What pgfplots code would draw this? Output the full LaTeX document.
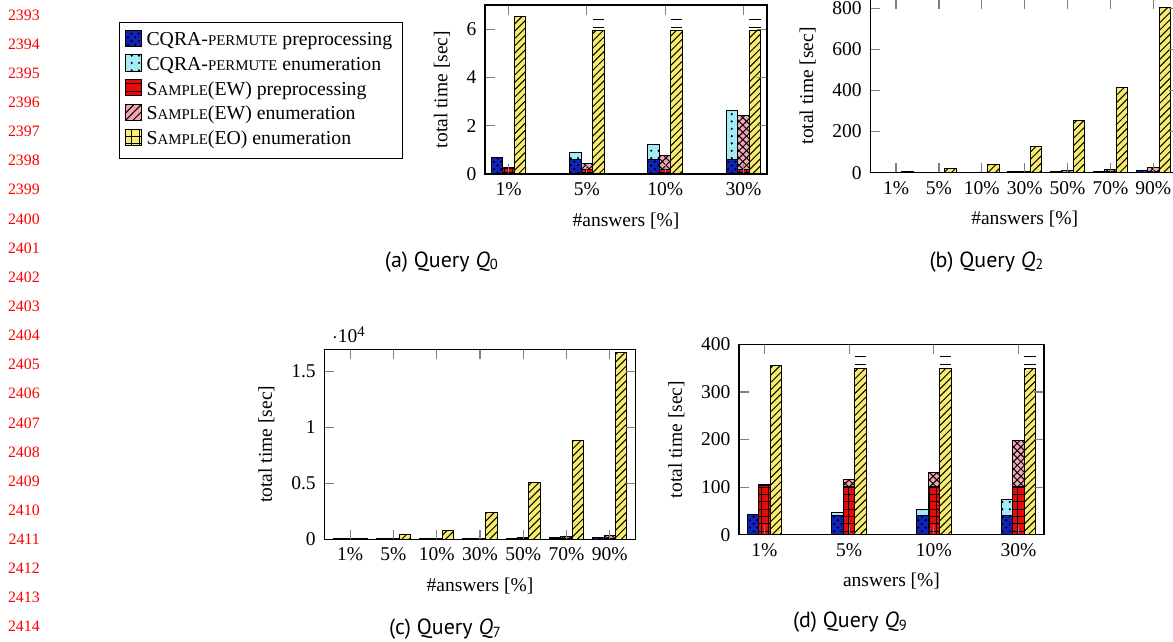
\documentclass[border=0pt]{standalone}
\usepackage{fontspec}
\setmainfont{Liberation Serif}
\newfontfamily\capfont{PT Sans}
\usepackage{pgfplots}
\pgfplotsset{compat=1.18}
\usetikzlibrary{patterns}

\definecolor{cblue}{RGB}{15,35,185}
\definecolor{ccyan}{RGB}{165,235,245}
\definecolor{cred}{RGB}{235,10,10}
\definecolor{cpink}{RGB}{242,165,180}
\definecolor{cyel}{RGB}{248,236,110}

\newcommand\sm[1]{{\fontsize{6.1}{7}\selectfont #1}}

\pgfdeclareplotmark{dbl}{%
  \pgfpathmoveto{\pgfpoint{2.35pt}{1.4pt}}\pgfpathlineto{\pgfpoint{7.05pt}{1.4pt}}%
  \pgfpathmoveto{\pgfpoint{2.35pt}{4.6pt}}\pgfpathlineto{\pgfpoint{7.05pt}{4.6pt}}%
  \pgfusepathqstroke}

\pgfplotsset{
  bw/.style={ybar, bar width=4.7pt, draw=black, line width=0.4pt},
  cqpre/.style={bw, bar shift=-4.7pt, fill=cblue, postaction={pattern=crosshatch dots}},
  cqenum/.style={bw, bar shift=-4.7pt, fill=ccyan, postaction={pattern=dots}},
  ewpre/.style={bw, bar shift=0pt, fill=cred, postaction={pattern=grid}},
  ewenum/.style={bw, bar shift=0pt, fill=cpink, postaction={pattern=crosshatch}},
  eo/.style={bw, bar shift=4.7pt, fill=cyel, postaction={pattern=north east lines}},
  brk/.style={only marks, mark=dbl, mark options={black, line width=0.4pt}},
  fig/.style={
    scale only axis, axis on top, anchor=south west, ymin=0,
    tick style={color=gray, line width=0.5pt},
    major tick length=4pt, tick align=inside,
    axis line style={black, line width=0.5pt},
    font=\fontsize{8}{9.6}\selectfont,
    ticklabel style={font=\fontsize{8}{9.6}\selectfont},
    label style={font=\fontsize{8}{9.6}\selectfont},
    /pgf/number format/assume math mode=true,
    ylabel={total time [sec]},
    xlabel={\#answers [\%]},
  },
}

\begin{document}
\begin{tikzpicture}
\useasboundingbox (0,0) rectangle (480.93pt,262.81pt);
\clip (0,0) rectangle (480.93pt,262.81pt);

% line numbers
\foreach \i in {0,...,21}{
  \node[anchor=east, text=red, font=\fontsize{6.5}{7.5}\selectfont, inner sep=0pt]
    at ({16.5pt},{(626-29.13*\i)*0.41pt}) {\number\numexpr2393+\i\relax};
}

% legend
\begin{axis}[hide axis, scale only axis, anchor=south west,
  at={(48.79pt,198.44pt)}, width=116.44pt, height=55.35pt,
  xmin=0, xmax=1, ymin=0, ymax=1,
  legend cell align=left,
  legend image code/.code={\draw[#1] (0pt,-2.3pt) rectangle (6.5pt,4.3pt);},
  legend style={at={(0,1)}, anchor=north west, draw=black, line width=0.4pt,
    font=\fontsize{8.1}{9.6}\selectfont, row sep=-0.9pt, inner sep=2.2pt}]
\addlegendimage{fill=cblue, draw=black, postaction={pattern=crosshatch dots}}
\addlegendentry{CQRA-\sm{PERMUTE} preprocessing}
\addlegendimage{fill=ccyan, draw=black, postaction={pattern=dots}}
\addlegendentry{CQRA-\sm{PERMUTE} enumeration}
\addlegendimage{fill=cred, draw=black, postaction={pattern=horizontal lines}}
\addlegendentry{S\sm{AMPLE}(EW) preprocessing}
\addlegendimage{fill=cpink, draw=black, postaction={pattern=north east lines}}
\addlegendentry{S\sm{AMPLE}(EW) enumeration}
\addlegendimage{fill=cyel, draw=black, postaction={pattern=grid}}
\addlegendentry{S\sm{AMPLE}(EO) enumeration}
\end{axis}

% (a) Q0
\begin{axis}[fig, at={(198.85pt,191.47pt)}, width=115.62pt, height=69.29pt,
  xmin=-0.3, xmax=3.3, ymax=7, xtick={0,1,2,3},
  xticklabels={1\%,5\%,10\%,30\%}, ytick={0,2,4,6}]
\addplot[cqenum] coordinates {(0,0.70) (1,0.90) (2,1.23) (3,2.65)};
\addplot[cqpre]  coordinates {(0,0.68) (1,0.62) (2,0.62) (3,0.62)};
\addplot[ewenum] coordinates {(0,0.25) (1,0.43) (2,0.75) (3,2.41)};
\addplot[ewpre]  coordinates {(0,0.23) (1,0.18) (2,0.17) (3,0.17)};
\addplot[eo]     coordinates {(0,6.52) (1,5.93) (2,5.93) (3,5.93)};
\addplot[brk]    coordinates {(1,5.93) (2,5.93) (3,5.93)};
\end{axis}

% (b) Q2
\begin{axis}[fig, at={(356.82pt,192.0pt)}, width=126.6pt, height=71.2pt,
  xmin=-0.6, xmax=6.6, ymax=845, xtick={0,...,6},
  xticklabels={1\%,5\%,10\%,30\%,50\%,70\%,90\%}, ytick={0,200,400,600,800}]
\addplot[cqenum] coordinates {(0,1.2) (1,1.3) (2,2) (3,4) (4,6) (5,8) (6,12)};
\addplot[cqpre]  coordinates {(0,1) (1,1) (2,1.5) (3,3) (4,5) (5,7) (6,10)};
\addplot[ewenum] coordinates {(0,2) (1,2.5) (2,3.5) (3,5) (4,9) (5,15) (6,26)};
\addplot[ewpre]  coordinates {(0,1) (1,1) (2,1.5) (3,2) (4,3) (5,4) (6,5)};
\addplot[eo]     coordinates {(0,5) (1,21) (2,40) (3,127) (4,256) (5,416) (6,804)};
\end{axis}

% (c) Q7
\begin{axis}[fig, at={(132.96pt,41.7pt)}, width=127.67pt, height=77.9pt,
  xmin=-0.6, xmax=6.6, ymax=17000, xtick={0,...,6},
  xticklabels={1\%,5\%,10\%,30\%,50\%,70\%,90\%},
  ytick={0,5000,10000,15000}, scaled y ticks=base 10:-4,
  ytick scale label code/.code={\(\cdot\)10\textsuperscript{#1}}]
\addplot[cqenum] coordinates {(0,30) (1,40) (2,50) (3,70) (4,100) (5,150) (6,200)};
\addplot[cqpre]  coordinates {(0,20) (1,25) (2,30) (3,40) (4,60) (5,80) (6,120)};
\addplot[ewenum] coordinates {(0,40) (1,60) (2,80) (3,100) (4,150) (5,230) (6,350)};
\addplot[ewpre]  coordinates {(0,20) (1,25) (2,30) (3,40) (4,50) (5,60) (6,80)};
\addplot[eo]     coordinates {(0,60) (1,410) (2,800) (3,2380) (4,5070) (5,8830) (6,16740)};
\end{axis}

% (d) Q9
\begin{axis}[fig, at={(302.99pt,43.58pt)}, width=125.05pt, height=78.06pt,
  xmin=-0.3, xmax=3.3, ymax=400, xtick={0,1,2,3},
  xticklabels={1\%,5\%,10\%,30\%}, ytick={0,100,200,300,400},
  xlabel={answers [\%]}]
\addplot[cqenum] coordinates {(0,43) (1,47) (2,52) (3,73)};
\addplot[cqpre]  coordinates {(0,42) (1,40) (2,40) (3,40)};
\addplot[ewenum] coordinates {(0,105) (1,115) (2,130) (3,198)};
\addplot[ewpre]  coordinates {(0,104) (1,102) (2,102) (3,102)};
\addplot[eo]     coordinates {(0,355) (1,350) (2,350) (3,350)};
\addplot[brk]    coordinates {(1,350) (2,350) (3,350)};
\end{axis}

% captions
\node[font=\capfont\fontsize{9}{11}\selectfont] at (181.2pt,155.5pt) {(a) Query \textit{Q}\textsubscript{0}};
\node[font=\capfont\fontsize{9}{11}\selectfont] at (404.67pt,155.5pt) {(b) Query \textit{Q}\textsubscript{2}};
\node[font=\capfont\fontsize{9}{11}\selectfont] at (182.66pt,4.92pt) {(c) Query \textit{Q}\textsubscript{7}};
\node[font=\capfont\fontsize{9}{11}\selectfont] at (348.7pt,7.79pt) {(d) Query \textit{Q}\textsubscript{9}};
\end{tikzpicture}
\end{document}
